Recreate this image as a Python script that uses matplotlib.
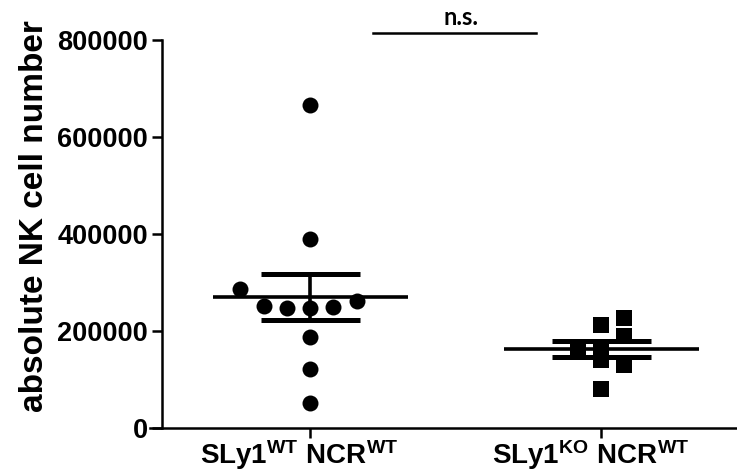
import numpy as np
import matplotlib
matplotlib.use("Agg")
import matplotlib.pyplot as plt
import matplotlib.transforms as mtransforms

plt.rcParams['font.family'] = ['Liberation Sans', 'DejaVu Sans']
plt.rcParams['mathtext.fontset'] = 'custom'
plt.rcParams['mathtext.rm'] = 'Liberation Sans:bold'
plt.rcParams['mathtext.bf'] = 'Liberation Sans:bold'
plt.rcParams['mathtext.it'] = 'Liberation Sans:bold'

#%% data
group_labels = [r'$\mathrm{SLy1^{WT}\ NCR^{WT}}$', r'$\mathrm{SLy1^{KO}\ NCR^{WT}}$']
wt_values = [666000, 390000, 287000, 252000, 247000, 247000, 250000, 262000, 188000, 122000, 52000]
ko_values = [212000, 227000, 190000, 161000, 161000, 140000, 130000, 80000]
yticks = [0, 200000, 400000, 600000, 800000]
sig_text = "n.s."

# horizontal spread of the points (in marker slots, like prism does it)
wt_slots = [0, 0, -3, -2, -1, 0, 1, 2, 0, 0, 0]
ko_slots = [0, 1, 1, -1, 0, 0, 1, 0]
slot_w = 0.08

#%% plot
fig = plt.figure(figsize=(7.37, 4.72), dpi=100)
ax = fig.add_axes([150/737, 44/472, 587/737, 388/472])

# move the spine first, it resets the ticks
ax.spines['top'].set_visible(False)
ax.spines['right'].set_visible(False)
ax.spines['left'].set_position(('data', 0.491))
ax.spines['left'].set_bounds(0, 800000)
ax.spines['left'].set_linewidth(1.8)
ax.spines['bottom'].set_linewidth(1.8)

groups = [(wt_values, wt_slots, 'o'), (ko_values, ko_slots, 's')]
for i, (vals, slots, mk) in enumerate(groups):
    xpos = i + 1
    vals = np.array(vals)
    ax.plot(xpos + np.array(slots) * slot_w, vals, mk, color='black', ms=11.5,
            mew=0, zorder=3, clip_on=False)
    m = vals.mean()
    sem = vals.std(ddof=1) / np.sqrt(len(vals))
    ax.hlines(m, xpos - 0.335, xpos + 0.335, color='black', lw=2.6, zorder=4)
    ax.hlines([m - sem, m + sem], xpos - 0.17, xpos + 0.17, color='black', lw=3.6, zorder=4)
    ax.vlines(xpos, m - sem, m + sem, color='black', lw=2.6, zorder=4)

ax.set_xlim(0.45, 2.467)
ax.set_ylim(0, 800000)
ax.set_xticks([1, 2])
ax.set_xticklabels(group_labels)
ax.set_yticks(yticks)
ax.set_yticklabels([str(t) for t in yticks], fontweight='bold')
ax.tick_params(axis='both', direction='out', length=7, width=1.8)
ax.tick_params(axis='y', labelsize=19.5, pad=3)
ax.tick_params(axis='x', labelsize=20, pad=0.5)

# prism puts the labels a bit left of the tick
shift = mtransforms.ScaledTranslation(-11/100, 0, fig.dpi_scale_trans)
for lab in ax.get_xticklabels():
    lab.set_transform(lab.get_transform() + shift)

ax.set_ylabel("absolute NK cell number", fontsize=24, fontweight='bold')
ax.yaxis.set_label_coords(-0.171, 0.546)

# significance bar
ax.plot([1.216, 1.777], [814400, 814400], color='black', lw=1.8, clip_on=False)
ax.text(1.52, 822000, sig_text, ha='center', va='bottom', fontsize=17,
        fontweight='bold', family=['Lato', 'DejaVu Sans'])

fig.savefig("out.png", dpi=100)
